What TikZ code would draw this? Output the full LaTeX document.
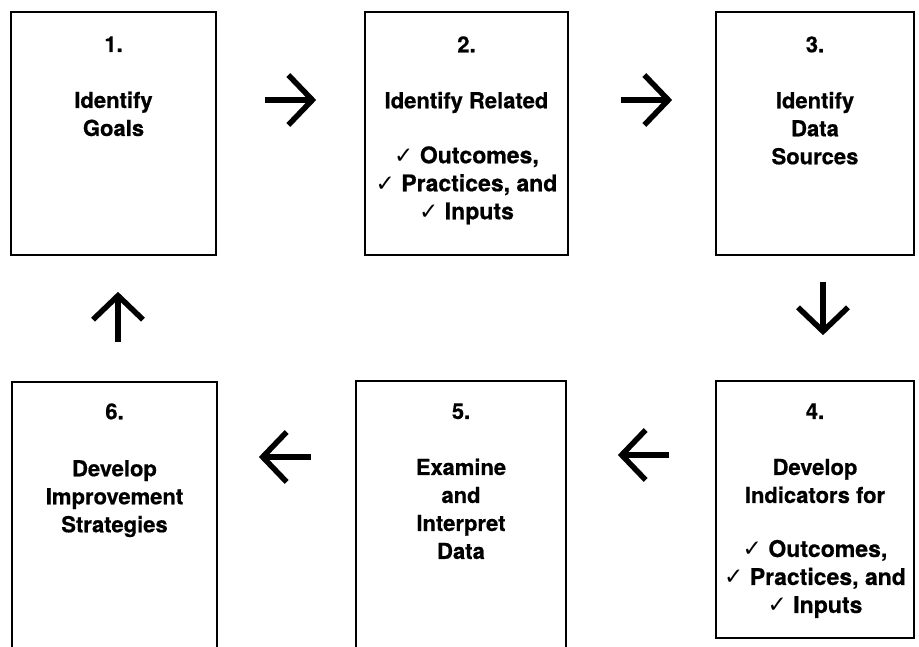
\documentclass[tikz,border=0pt]{standalone}
\usepackage{fontspec}
\setmainfont{TeX Gyre Heros}[BoldFeatures={FakeBold=0.6}]
\newfontfamily\checkfont{DejaVu Sans}
\usetikzlibrary{arrows.meta}
\newcommand{\ck}{\fontsize{23}{28}\selectfont{\checkfont ✓}\ }
\begin{document}
\begin{tikzpicture}[x=1pt,y=-1pt,
  stepbox/.style={draw=black, line width=1.7pt, inner sep=0pt, fill=none},
  txt/.style={align=center, inner sep=0pt, anchor=north, font=\bfseries\fontsize{22}{28}\selectfont},
  arr/.style={line width=5.5pt, -{Straight Barb[length=24pt,width=50pt]}}]
\useasboundingbox (0,0) rectangle (919,647);
\node[stepbox, minimum width=205pt, minimum height=243pt] (b1) at (113.5,133.5) {};
\node[stepbox, minimum width=203pt, minimum height=243pt] (b2) at (466.5,133.5) {};
\node[stepbox, minimum width=198pt, minimum height=243pt] (b3) at (815,133.5) {};
\node[stepbox, minimum width=198pt, minimum height=257pt] (b4) at (815,509.5) {};
\node[stepbox, minimum width=210pt, minimum height=279pt] (b5) at (461,520.5) {};
\node[stepbox, minimum width=205pt, minimum height=278pt] (b6) at (114.5,521) {};
\node[txt] (t1) at ([yshift=-25pt]b1.north) {1.\\[28pt]Identify\\Goals};
\node[txt] (t2) at ([yshift=-25pt]b2.north) {2.\\[28pt]Identify Related\\[27pt]\ck Outcomes,\\\ck Practices, and\\\ck Inputs};
\node[txt] (t3) at ([yshift=-25pt]b3.north) {3.\\[28pt]Identify\\Data\\Sources};
\node[txt] (t4) at ([yshift=-23pt]b4.north) {4.\\[28pt]Develop\\Indicators for\\[26pt]\ck Outcomes,\\\ck Practices, and\\\ck Inputs};
\node[txt] (t5) at ([yshift=-23pt]b5.north) {5.\\[28pt]Examine\\and\\Interpret\\Data};
\node[txt] (t6) at ([yshift=-22pt]b6.north) {6.\\[29pt]Develop\\Improvement\\Strategies};
\draw[arr, shorten <=48pt, shorten >=48pt] ([yshift=33.5pt]b1.east) -- ([yshift=33.5pt]b2.west);
\draw[arr, shorten <=52pt, shorten >=43pt] ([yshift=33.5pt]b2.east) -- ([yshift=33.5pt]b3.west);
\draw[arr, shorten <=26pt, shorten >=45pt] ([xshift=8pt]b3.south) -- ([xshift=8pt]b4.north);
\draw[arr, shorten <=46pt, shorten >=51pt] ([yshift=54.5pt]b4.west) -- ([yshift=65.5pt]b5.east);
\draw[arr, shorten <=44pt, shorten >=41pt] ([yshift=63.5pt]b5.west) -- ([yshift=64pt]b6.east);
\draw[arr, shorten <=39pt, shorten >=36pt] ([xshift=3.5pt]b6.north) -- ([xshift=4.5pt]b1.south);
\end{tikzpicture}
\end{document}
